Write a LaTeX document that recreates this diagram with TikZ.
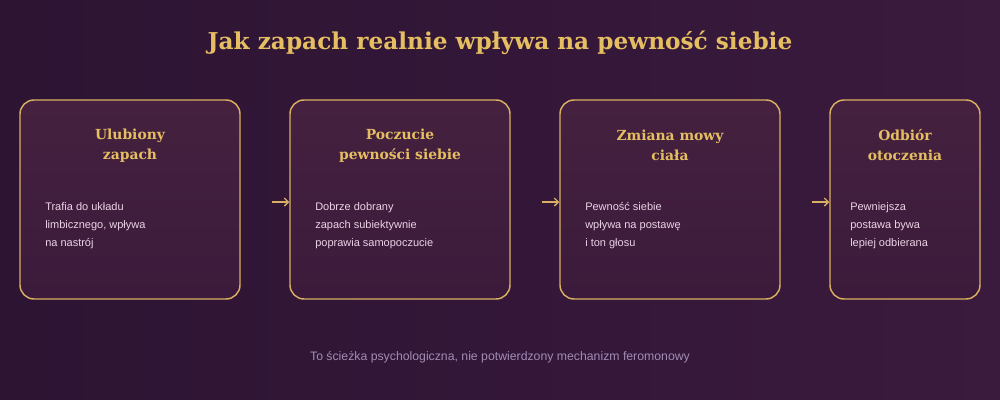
\documentclass[tikz,border=0pt]{standalone}
\usepackage{fontspec}
\setmainfont{DejaVu Serif}
\setsansfont{Liberation Sans}
\usetikzlibrary{positioning,arrows.meta}
\definecolor{bgdark}{HTML}{2D1433}
\definecolor{bglight}{HTML}{3A1A3D}
\definecolor{cardtop}{HTML}{45213F}
\definecolor{cardbot}{HTML}{3B1A3B}
\definecolor{gold}{HTML}{D9B061}
\definecolor{headgold}{HTML}{E6BE62}
\definecolor{bodytext}{HTML}{EBD3E6}
\definecolor{notetext}{HTML}{A08DB5}
\begin{document}
\begin{tikzpicture}[x=0.75pt,y=-0.75pt,
  card/.style={draw=gold, line width=1.1pt, rounded corners=10.5pt,
    top color=cardtop, bottom color=cardbot,
    minimum width=165pt, minimum height=149.25pt, inner sep=0pt},
  head/.style={text=headgold, font=\bfseries\fontsize{10.4}{15}\selectfont, align=center},
  body/.style={text=bodytext, font=\sffamily\fontsize{8.25}{13.5}\selectfont,
    align=left, anchor=base west, inner sep=0pt},
  flow/.style={draw=gold, line width=1pt, shorten <=23.25pt, -{Straight Barb[length=3pt]}}]
  \fill[left color=bgdark, right color=bglight] (0,0) rectangle (1000,400);

  \node[text=headgold, font=\bfseries\fontsize{17.4}{21}\selectfont] (title) at (500,43)
    {Jak zapach realnie wpływa na pewność siebie};

  % cards
  \node[card] (b1) at (130,199.5) {};
  \node[card] (b2) at (400,199.5) {};
  \node[card] (b3) at (670,199.5) {};
  \node[card, minimum width=112.5pt] (b4) at (905,199.5) {};

  \node[head] (h1) at (130,145.5) {Ulubiony\\zapach};
  \node[head] (h2) at (400,145.5) {Poczucie\\pewności siebie};
  \node[head] (h3) at (670,145.5) {Zmiana mowy\\ciała};
  \node[head] (h4) at (905,145.5) {Odbiór\\otoczenia};

  \node[body] (t1) at (45,246) {Trafia do układu\\limbicznego, wpływa\\na nastrój};
  \node[body] (t2) at (315,246) {Dobrze dobrany\\zapach subiektywnie\\poprawia samopoczucie};
  \node[body] (t3) at (585,246) {Pewność siebie\\wpływa na postawę\\i ton głosu};
  \node[body] (t4) at (850,246) {Pewniejsza\\postawa bywa\\lepiej odbierana};

  % arrows
  \draw[flow] ([yshift=-1.9pt]b1.east) -- ([yshift=-1.9pt]b2.west);
  \draw[flow] ([yshift=-1.9pt]b2.east) -- ([yshift=-1.9pt]b3.west);
  \draw[flow] ([yshift=-1.9pt]b3.east) -- ([yshift=-1.9pt]b4.west);

  \node[text=notetext, font=\sffamily\fontsize{9.2}{11}\selectfont] (note) at (500,357)
    {To ścieżka psychologiczna, nie potwierdzony mechanizm feromonowy};
\end{tikzpicture}
\end{document}
